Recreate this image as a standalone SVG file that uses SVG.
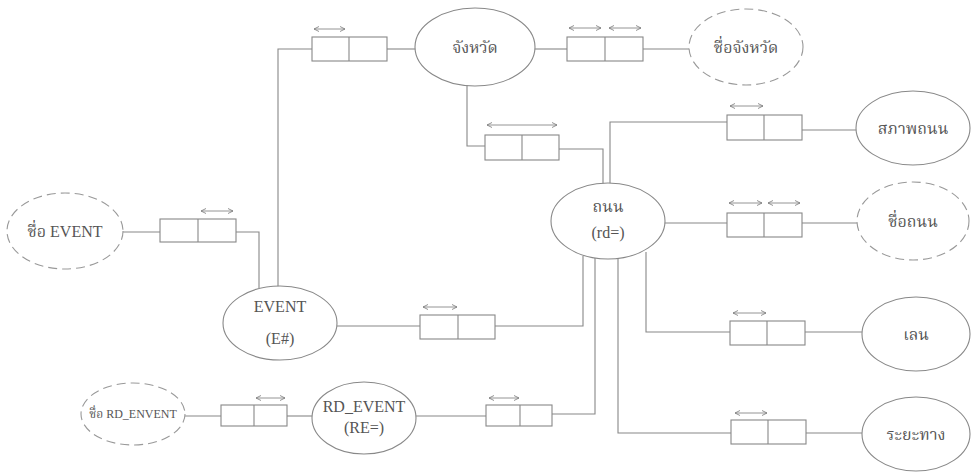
<svg xmlns="http://www.w3.org/2000/svg" width="973" height="472" viewBox="0 0 973 472">
<defs>
<marker id="ah" viewBox="0 0 6 6" refX="5" refY="3" markerWidth="6" markerHeight="6" orient="auto-start-reverse" markerUnits="userSpaceOnUse">
<path d="M0,0.5 L5,3 L0,5.5" fill="none" stroke="#777" stroke-width="0.8"/>
</marker>
</defs>
<style>
.bg{fill:#fff}
.e{fill:#fff;stroke:#888;stroke-width:1.1}
.d{fill:#fff;stroke:#999;stroke-width:1.1;stroke-dasharray:9 5}
.b{fill:#fff;stroke:#888;stroke-width:1.1}
.l{fill:none;stroke:#888;stroke-width:1.1}
.a{fill:none;stroke:#888;stroke-width:0.9;marker-start:url(#ah);marker-end:url(#ah)}
.t{font-family:"Liberation Serif","Noto Serif Thai","Noto Sans Thai",serif;font-size:16px;fill:#555;text-anchor:middle}
.s{font-size:12px}
</style>
<rect class="bg" x="0" y="0" width="973" height="472"/>
<g id="connectors">
<polyline class="l" points="312,49 278,49 278,287"/>
<line class="l" x1="387" y1="49" x2="416" y2="49"/>
<line class="l" x1="535" y1="49" x2="567" y2="49"/>
<line class="l" x1="643" y1="49" x2="689" y2="49"/>
<polyline class="l" points="467,85 467,146 485,146"/>
<polyline class="l" points="559,149 603,149 603,184"/>
<polyline class="l" points="610,184 610,122 727,122"/>
<line class="l" x1="802" y1="130" x2="856" y2="130"/>
<line class="l" x1="123" y1="232" x2="160" y2="232"/>
<polyline class="l" points="236,232 259,232 259,288"/>
<line class="l" x1="665" y1="223" x2="727" y2="223"/>
<line class="l" x1="802" y1="223" x2="857" y2="223"/>
<line class="l" x1="337" y1="326" x2="420" y2="326"/>
<polyline class="l" points="495,326 583,326 583,256"/>
<polyline class="l" points="646,252 646,332 730,332"/>
<line class="l" x1="805" y1="332" x2="862" y2="332"/>
<polyline class="l" points="552,414 595,414 595,258"/>
<polyline class="l" points="618,258 618,433 731,433"/>
<line class="l" x1="806" y1="433" x2="862" y2="433"/>
<line class="l" x1="185" y1="416" x2="221" y2="416"/>
<line class="l" x1="287" y1="416" x2="312" y2="416"/>
<line class="l" x1="416" y1="416" x2="486" y2="416"/>
</g>
<g id="box-event-province">
<rect class="b" x="312" y="37" width="75" height="24"/><line class="l" x1="349" y1="37" x2="349" y2="61"/>
<line class="a" x1="314" y1="29" x2="345" y2="29"/>
</g>
<g id="box-province-name">
<rect class="b" x="567" y="37" width="76" height="24"/><line class="l" x1="605" y1="37" x2="605" y2="61"/>
<line class="a" x1="569" y1="28" x2="601" y2="28"/>
<line class="a" x1="609" y1="28" x2="641" y2="28"/>
</g>
<g id="box-province-road">
<rect class="b" x="485" y="135" width="74" height="25"/><line class="l" x1="522" y1="135" x2="522" y2="160"/>
<line class="a" x1="487" y1="125" x2="557" y2="125"/>
</g>
<g id="box-road-condition">
<rect class="b" x="727" y="115" width="75" height="25"/><line class="l" x1="764" y1="115" x2="764" y2="140"/>
<line class="a" x1="730" y1="106" x2="763" y2="106"/>
</g>
<g id="box-eventname">
<rect class="b" x="160" y="219" width="76" height="23"/><line class="l" x1="198" y1="219" x2="198" y2="242"/>
<line class="a" x1="201" y1="211" x2="233" y2="211"/>
</g>
<g id="box-road-name">
<rect class="b" x="727" y="213" width="75" height="24"/><line class="l" x1="764" y1="213" x2="764" y2="237"/>
<line class="a" x1="729" y1="203" x2="762" y2="203"/>
<line class="a" x1="768" y1="203" x2="800" y2="203"/>
</g>
<g id="box-event-road">
<rect class="b" x="420" y="315" width="75" height="24"/><line class="l" x1="458" y1="315" x2="458" y2="339"/>
<line class="a" x1="423" y1="307" x2="457" y2="307"/>
</g>
<g id="box-road-lane">
<rect class="b" x="730" y="321" width="75" height="24"/><line class="l" x1="767" y1="321" x2="767" y2="345"/>
<line class="a" x1="733" y1="313" x2="766" y2="313"/>
</g>
<g id="box-road-distance">
<rect class="b" x="731" y="420" width="75" height="24"/><line class="l" x1="768" y1="420" x2="768" y2="444"/>
<line class="a" x1="735" y1="413" x2="767" y2="413"/>
</g>
<g id="box-rdevent-name">
<rect class="b" x="221" y="405" width="66" height="21"/><line class="l" x1="254" y1="405" x2="254" y2="426"/>
<line class="a" x1="256" y1="398" x2="285" y2="398"/>
</g>
<g id="box-rdevent-road">
<rect class="b" x="486" y="405" width="66" height="21"/><line class="l" x1="520" y1="405" x2="520" y2="426"/>
<line class="a" x1="489" y1="398" x2="519" y2="398"/>
</g>
<g id="province">
<ellipse class="e" cx="475" cy="47" rx="60" ry="39"/>
<text class="t" x="475" y="53">จังหวัด</text>
</g>
<g id="province-name">
<ellipse class="d" cx="746" cy="47" rx="57" ry="38"/>
<text class="t" x="746" y="53">ชื่อจังหวัด</text>
</g>
<g id="road-condition">
<ellipse class="e" cx="913" cy="128" rx="57" ry="37"/>
<text class="t" x="913" y="134">สภาพถนน</text>
</g>
<g id="event-name">
<ellipse class="d" cx="65" cy="231" rx="58" ry="38"/>
<text class="t" x="65" y="237">ชื่อ EVENT</text>
</g>
<g id="road">
<ellipse class="e" cx="608" cy="221" rx="57" ry="38"/>
<text class="t" x="608" y="212">ถนน</text>
<text class="t" x="608" y="238">(rd=)</text>
</g>
<g id="road-name">
<ellipse class="d" cx="913" cy="221" rx="56" ry="39"/>
<text class="t" x="913" y="227">ชื่อถนน</text>
</g>
<g id="event">
<ellipse class="e" cx="280" cy="323" rx="57" ry="37"/>
<text class="t" x="280" y="312">EVENT</text>
<text class="t" x="280" y="344">(E#)</text>
</g>
<g id="lane">
<ellipse class="e" cx="916" cy="334" rx="54" ry="37"/>
<text class="t" x="916" y="340">เลน</text>
</g>
<g id="distance">
<ellipse class="e" cx="916" cy="434" rx="54" ry="37"/>
<text class="t" x="916" y="440">ระยะทาง</text>
</g>
<g id="rdevent-name">
<ellipse class="d" cx="133" cy="414" rx="52" ry="31"/>
<text class="t s" x="133" y="418">ชื่อ RD_ENVENT</text>
</g>
<g id="rdevent">
<ellipse class="e" cx="364" cy="418" rx="52" ry="36"/>
<text class="t" x="364" y="412">RD_EVENT</text>
<text class="t" x="364" y="433">(RE=)</text>
</g>
</svg>
